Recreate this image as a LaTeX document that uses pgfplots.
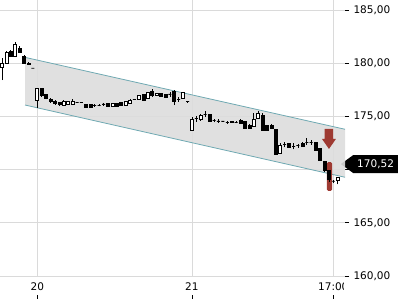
\documentclass[border=0pt]{standalone}
\usepackage{pgfplots}
\pgfplotsset{compat=1.18}
\usepackage{pgfplotstable}
\usepackage{fontspec}
\setmainfont{DejaVu Sans}
\usetikzlibrary{shapes.symbols}
\definecolor{chan}{HTML}{6FA9B2}
\definecolor{chanfill}{HTML}{DDDDDD}
\definecolor{redarr}{HTML}{9E3A32}
\definecolor{gridc}{HTML}{DADADA}

\pgfdeclareplotmark{candle}{%
  \pgfpathrectangle{\pgfpoint{-1.5pt}{-0.5*\candleh pt}}{\pgfpoint{3pt}{\candleh pt}}%
  \pgfusepathqfillstroke}

\pgfplotstableread{
x o h l c
-8 179.64 180.49 178.42 180.02
-7 180.02 181.15 179.93 181.05
-5 180.68 181.99 180.58 181.81
0 176.54 177.70 175.79 177.64
6 176.07 176.50 176.00 176.38
7 176.14 176.45 176.10 176.38
8 176.17 176.60 176.15 176.38
17 175.98 176.30 175.95 176.26
20 176.07 176.45 176.00 176.38
21 176.23 176.65 176.20 176.54
23 176.61 177.05 176.58 177.01
25 176.70 177.30 176.65 177.27
27 177.01 177.20 176.98 177.17
33 176.70 177.26 176.65 177.23
35 173.72 174.97 173.66 174.76
37 174.76 175.20 174.57 175.07
49 174.10 175.29 174.03 174.76
50 174.82 175.51 174.80 175.29
55 171.53 172.50 171.45 172.31
68 169.02 169.30 168.60 169.24
}\upc

\pgfplotstableread{
x o h l c
-6 181.15 181.24 180.58 180.68
-4 181.43 181.62 180.96 181.05
-3 180.68 180.77 179.93 180.02
-2 180.02 180.10 179.83 179.88
-1 179.55 179.55 179.55 179.55
1 177.64 177.70 176.82 177.01
2 177.08 177.12 176.60 176.70
3 176.61 176.70 176.30 176.38
4 176.38 176.50 176.10 176.23
5 176.33 176.40 176.00 176.14
9 176.33 176.38 176.30 176.33
10 176.33 176.36 176.30 176.33
11 176.14 176.16 175.80 175.82
12 176.14 176.18 175.82 175.85
13 176.07 176.20 175.90 176.07
14 176.04 176.15 175.95 176.04
15 176.17 176.30 176.00 176.17
16 176.26 176.30 175.90 175.94
18 176.26 176.30 175.95 175.98
19 176.29 176.40 176.05 176.07
22 176.61 176.64 176.58 176.61
24 177.08 177.12 176.50 176.54
26 177.32 177.55 176.80 177.01
28 177.17 177.20 176.84 176.86
29 177.08 177.12 176.78 176.80
30 177.11 177.32 176.86 177.11
31 177.32 177.50 176.07 176.38
32 176.61 176.86 176.38 176.61
34 176.38 176.40 176.36 176.38
36 174.82 175.07 174.50 174.82
38 175.20 175.51 174.97 175.20
39 175.20 175.25 174.48 174.50
40 174.60 174.75 174.45 174.60
41 174.57 174.76 174.40 174.57
42 174.57 174.60 174.54 174.57
43 174.45 174.60 174.30 174.45
44 174.50 174.55 174.38 174.41
45 174.47 174.60 174.35 174.47
46 174.66 174.76 174.33 174.35
47 174.50 174.55 173.85 173.88
48 174.19 174.25 173.85 173.88
51 175.13 175.30 173.70 173.72
52 174.19 174.22 173.70 173.72
53 174.19 174.25 173.85 173.88
54 173.82 173.85 171.42 171.47
56 172.38 172.57 172.10 172.38
57 172.47 172.52 172.08 172.10
58 172.16 172.47 171.91 172.16
59 172.25 172.45 172.05 172.25
60 172.47 172.62 172.14 172.16
61 172.53 172.94 172.31 172.53
62 172.53 172.78 172.35 172.53
63 172.57 172.60 171.82 171.84
64 172.00 172.05 170.85 170.90
65 170.81 170.85 169.75 169.90
66 169.90 169.95 168.84 169.09
67 168.93 169.00 168.74 168.93
}\downc

\begin{document}
\begin{tikzpicture}
\path[use as bounding box] (0,-24pt) rectangle (400pt,276pt);
\begin{axis}[
  x=4.418pt, y=10.64pt,
  xmin=-8.44, xmax=69.65,
  ymin=160, ymax=185.94,
  axis line style={draw=none},
  clip=true,
  grid=major,
  major grid style={draw=gridc, line width=0.7pt},
  xtick={0,35,67},
  xticklabels={20,21,17:00},
  xtick pos=bottom,
  ytick={160,165,170,175,180,185},
  yticklabels={{160,00},{165,00},{},{175,00},{180,00},{185,00}},
  ytick pos=right,
  yticklabel pos=right,
  tick align=outside,
  major tick length=4pt,
  tick style={draw=black, line width=0.6pt},
  x tick style={yshift=-19pt},
  ticklabel style={font=\fontsize{10.5}{12}\selectfont, text=black},
  yticklabel style={xshift=1pt},
  xticklabel style={yshift=1pt},
  extra y ticks={170.52},
  extra y tick style={grid=none, tick align=inside, major tick length=3pt,
    /pgf/number format/fixed, /pgf/number format/fixed zerofill, /pgf/number format/precision=2,
    /pgf/number format/use comma, /pgf/number format/assume math mode=true,
    yticklabel style={shape=signal, signal to=west, signal pointer angle=72, fill=black, text=white, inner xsep=4pt, inner ysep=4.5pt, xshift=-5.5pt}},
]
% channel
\addplot[fill=chanfill, draw=none, fill opacity=0.9] coordinates {(-2.78,180.55) (69.65,173.79) (69.65,169.28) (-2.78,176.07)} -- cycle;
\addplot[chan, line width=0.8pt] coordinates {(-2.78,180.55) (69.65,173.79)};
\addplot[chan, line width=0.8pt] coordinates {(-2.78,176.07) (69.65,169.28)};
% red highlight bar
\addplot[fill=redarr, draw=none, rounded corners=1.5pt] coordinates {(65.55,170.71) (66.75,170.71) (66.75,167.99) (65.55,167.99)} -- cycle;
% red arrow
\addplot[fill=redarr, draw=none] coordinates {(65.06,173.82) (66.98,173.82) (66.98,172.88) (67.60,172.88) (66.02,171.94) (64.44,172.88) (65.06,172.88)} -- cycle;
% wicks
\addplot[draw=none, mark=none, error bars/.cd, y dir=plus, y explicit, error mark=none, error bar style={draw=black, line width=0.6pt}] table[x=x, y=l, y error plus expr=\thisrow{h}-\thisrow{l}] {\upc};
\addplot[draw=none, mark=none, error bars/.cd, y dir=plus, y explicit, error mark=none, error bar style={draw=black, line width=0.6pt}] table[x=x, y=l, y error plus expr=\thisrow{h}-\thisrow{l}] {\downc};
% bodies
\addplot[only marks, mark=candle, mark options={draw=black, fill=white, line width=0.6pt},
  visualization depends on={abs(\thisrow{c}-\thisrow{o})*10.64 \as \candleh}]
  table[x=x, y expr=(\thisrow{o}+\thisrow{c})/2] {\upc};
\addplot[only marks, mark=candle, mark options={draw=black, fill=black, line width=0.6pt},
  visualization depends on={abs(\thisrow{c}-\thisrow{o})*10.64 \as \candleh}]
  table[x=x, y expr=(\thisrow{o}+\thisrow{c})/2] {\downc};
\end{axis}
\fill[white] (344pt,-5pt) rectangle (352pt,-24pt);
\end{tikzpicture}
\end{document}
